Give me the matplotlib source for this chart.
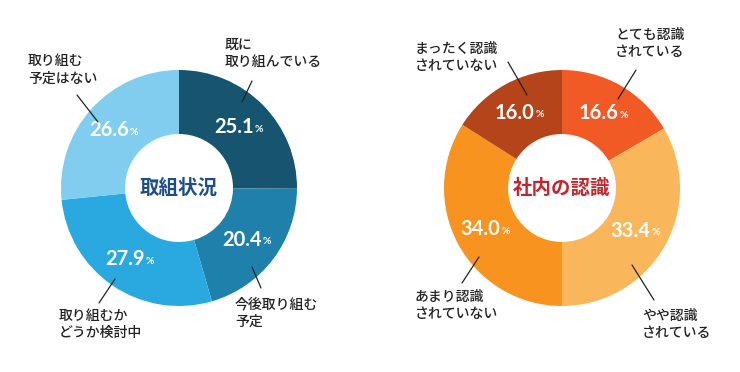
import numpy as np
import matplotlib.pyplot as plt

plt.rcParams['font.family'] = ['Noto Sans CJK JP', 'DejaVu Sans']

# データ
left_labels = ['既に\n取り組んでいる', '今後取り組む\n予定', '取り組むか\nどうか検討中', '取り組む\n予定はない']
left_values = [25.1, 20.4, 27.9, 26.6]
left_colors = ['#17546f', '#1f80ac', '#29a9e0', '#80cdf0']
left_title = '取組状況'

right_labels = ['とても認識\nされている', 'やや認識\nされている', 'あまり認識\nされていない', 'まったく認識\nされていない']
right_values = [16.6, 33.4, 34.0, 16.0]
right_colors = ['#f15a25', '#f9b65a', '#f7931e', '#b5441b']
right_title = '社内の認識'

# ラベル位置 (ピクセル座標): テキスト左上, 引き出し線の始点と終点
left_text_pos = [(225, 38), (235, 297), (59, 309), (28, 54)]
left_lines = [((242, 102), (252, 81)), ((252, 267), (261, 288)),
              ((115, 279), (99, 303)), ((98, 122), (77, 95))]
right_text_pos = [(615, 28), (642, 309), (415, 290), (415, 42)]
right_lines = [((618, 99), (636, 70)), ((632, 265), (654, 300)),
               ((479, 257), (462, 283)), ((527, 95), (508, 62))]

R_OUT, R_IN = 118, 54
H = 372

fig = plt.figure(figsize=(7.4, 3.72), dpi=100)
ax = fig.add_axes([0, 0, 1, 1])


def donut(cx, cy, values, colors, labels, text_pos, lines, title, title_color):
    wedges, _ = ax.pie(values, colors=colors, startangle=90, counterclock=False,
                       center=(cx, H - cy), radius=R_OUT, frame=True,
                       wedgeprops=dict(width=R_OUT - R_IN, linewidth=0))
    r_mid = (R_OUT + R_IN) / 2
    for w, v in zip(wedges, values):
        ang = np.deg2rad((w.theta1 + w.theta2) / 2)
        x = cx + r_mid * np.cos(ang)
        y = H - cy + r_mid * np.sin(ang)
        ax.annotate(f'{v:.1f}', (x, y), xytext=(10, 0), textcoords='offset points',
                    ha='right', va='center', color='white', fontsize=14.5,
                    fontweight='bold', family='Lato')
        ax.annotate('%', (x, y), xytext=(10.5, -1.5), textcoords='offset points',
                    ha='left', va='center', color='white', fontsize=7.5,
                    fontweight='bold', family='Lato')
    for lab, (tx, ty), (p0, p1) in zip(labels, text_pos, lines):
        ax.text(tx, H - ty, lab, ha='left', va='top', fontsize=10,
                color='#222222', linespacing=1.3, fontweight='medium')
        ax.annotate('', xy=(p1[0], H - p1[1]), xytext=(p0[0], H - p0[1]),
                    arrowprops=dict(arrowstyle='-', color='#222222', lw=0.9,
                                    shrinkA=0, shrinkB=0))
    ax.text(cx, H - cy, title, ha='center', va='center', fontsize=14,
            fontweight='bold', color=title_color)


donut(179, 188, left_values, left_colors, left_labels, left_text_pos, left_lines,
      left_title, '#1d4e89')
donut(562, 188, right_values, right_colors, right_labels, right_text_pos, right_lines,
      right_title, '#c1272d')

ax.set_xlim(0, 740)
ax.set_ylim(0, H)
ax.set_aspect('equal')
ax.axis('off')

fig.savefig('out.png', dpi=100)
